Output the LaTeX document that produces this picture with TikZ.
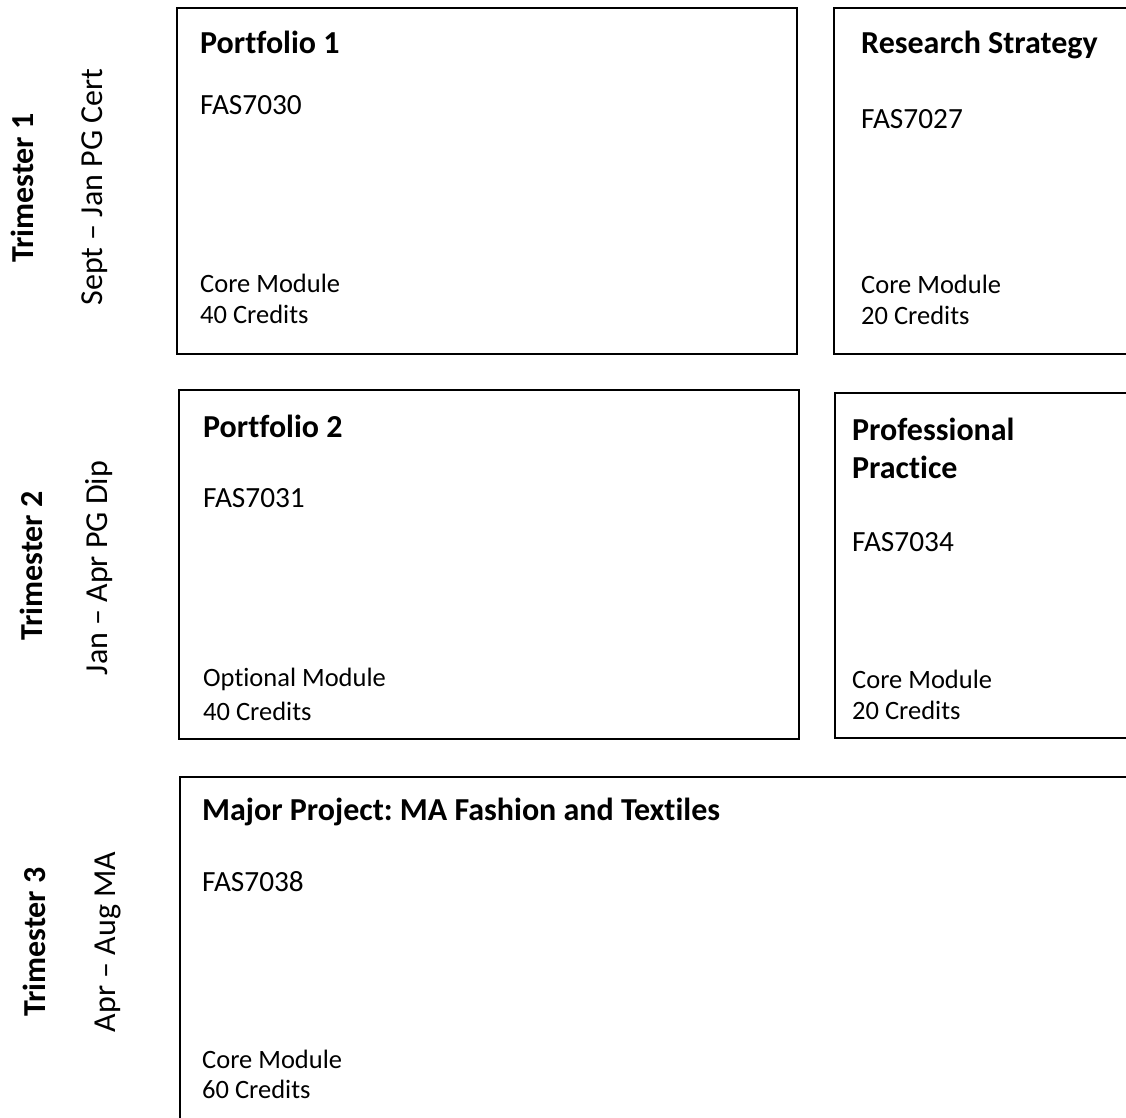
\documentclass[tikz,border=0pt]{standalone}
\usepackage{fontspec}
\setmainfont{Carlito}[Ligatures=NoCommon]
\frenchspacing
\begin{document}
\begin{tikzpicture}[x=1pt,y=-1pt,
  modbox/.style={draw=black,line width=2.6pt},
  txt/.style={anchor=base west,inner sep=0pt,font=\fontsize{26.5}{31}\selectfont},
  code/.style={anchor=base west,inner sep=0pt,font=\fontsize{29.3}{34}\selectfont},
  ttl/.style={anchor=base west,inner sep=0pt,font=\fontsize{32}{38}\selectfont\bfseries,align=left},
  side/.style={anchor=base,inner sep=0pt,rotate=90,font=\fontsize{32}{38}\selectfont},
  sideb/.style={anchor=base,inner sep=0pt,rotate=90,font=\fontsize{32}{38}\selectfont\bfseries}]
\useasboundingbox (0,0) rectangle (1126,1117);
% boxes
\draw[modbox] (177,8) rectangle (797,354);
\draw[modbox] (1140,8) -- (834,8) -- (834,354) -- (1140,354);
\draw[modbox] (179,390) rectangle (799,739);
\draw[modbox] (1140,393) -- (835,393) -- (835,738) -- (1140,738);
\draw[modbox] (1140,777) -- (180,777) -- (180,1130);
% side labels
\node[sideb] (t1) at (33,188) {Trimester 1};
\node[side] (s1) at (102,187) {Sept – Jan PG Cert};
\node[sideb] (t2) at (42,566) {Trimester 2};
\node[side] (s2) at (107,568) {Jan – Apr PG Dip};
\node[sideb] (t3) at (45,942) {Trimester 3};
\node[side] (s3) at (115,942) {Apr – Aug MA};
% box 1
\node[ttl] (p1) at (200,53) {Portfolio 1};
\node[code] (c1) at (200,114) {FAS7030};
\node[txt] (m1) at (200,292) {Core Module};
\node[txt] (k1) at (200,323) {40 Credits};
% box 2
\node[ttl] (p2) at (861,53) {Research Strategy};
\node[code] (c2) at (861,128) {FAS7027};
\node[txt] (m2) at (861,293) {Core Module};
\node[txt] (k2) at (861,324) {20 Credits};
% box 3
\node[ttl] (p3) at (203,437) {Portfolio 2};
\node[code] (c3) at (203,507) {FAS7031};
\node[txt] (m3) at (203,686) {Optional Module};
\node[txt] (k3) at (203,720) {40 Credits};
% box 4
\node[ttl] (p4) at (852,478) {Professional\\Practice};
\node[code] (c4) at (852,551) {FAS7034};
\node[txt] (m4) at (852,688) {Core Module};
\node[txt] (k4) at (852,719) {20 Credits};
% box 5
\node[ttl] (p5) at (202,820) {Major Project: MA Fashion and Textiles};
\node[code] (c5) at (202,891) {FAS7038};
\node[txt] (m5) at (202,1068) {Core Module};
\node[txt] (k5) at (202,1098) {60 Credits};
\end{tikzpicture}
\end{document}
